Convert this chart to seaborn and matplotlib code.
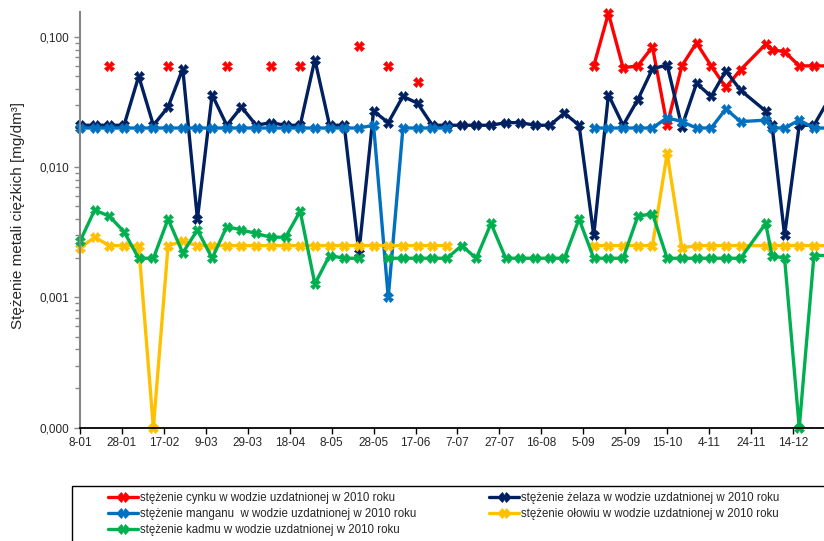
import numpy as np
import pandas as pd
import matplotlib
matplotlib.use("Agg")
import matplotlib.pyplot as plt
import matplotlib.dates as mdates
import matplotlib.ticker as mticker
from matplotlib.lines import Line2D
from matplotlib.patches import Rectangle
import seaborn as sns

nan = np.nan

# sampling dates (roughly weekly, 2010)
sample_dates = [
    "2010-01-08", "2010-01-15", "2010-01-22", "2010-01-29", "2010-02-05",
    "2010-02-12", "2010-02-19", "2010-02-26", "2010-03-05", "2010-03-12",
    "2010-03-19", "2010-03-26", "2010-04-02", "2010-04-09", "2010-04-16",
    "2010-04-23", "2010-04-30", "2010-05-07", "2010-05-14", "2010-05-21",
    "2010-05-28", "2010-06-04", "2010-06-11", "2010-06-18", "2010-06-25",
    "2010-07-02", "2010-07-09", "2010-07-16", "2010-07-23", "2010-07-30",
    "2010-08-06", "2010-08-13", "2010-08-20", "2010-08-27", "2010-09-03",
    "2010-09-10", "2010-09-17", "2010-09-24", "2010-10-01", "2010-10-08",
    "2010-10-15", "2010-10-22", "2010-10-29", "2010-11-05", "2010-11-12",
    "2010-11-19", "2010-12-01", "2010-12-04", "2010-12-10", "2010-12-17",
    "2010-12-24", "2010-12-31",
]

# concentrations [mg/dm3]
zinc = [
    nan, nan, 0.06, nan, nan, nan, 0.06, nan, nan, nan,
    0.06, nan, nan, 0.06, nan, 0.06, nan, nan, nan, 0.085,
    nan, 0.06, nan, 0.045, nan, nan, nan, nan, nan, nan,
    nan, nan, nan, nan, nan, 0.06, 0.152, 0.058, 0.06, 0.084,
    0.021, 0.06, 0.09, 0.06, 0.041, 0.056, 0.088, 0.08, 0.077, 0.06,
    0.06, 0.06,
]
iron = [
    0.021, 0.021, 0.021, 0.021, 0.050, 0.021, 0.029, 0.057, 0.004, 0.036,
    0.021, 0.029, 0.021, 0.022, 0.021, 0.021, 0.067, 0.021, 0.021, 0.0022,
    0.027, 0.022, 0.035, 0.031, 0.021, 0.021, 0.021, 0.021, 0.021, 0.022,
    0.022, 0.021, 0.021, 0.026, 0.021, 0.003, 0.036, 0.021, 0.033, 0.057,
    0.061, 0.0205, 0.044, 0.035, 0.055, 0.039, 0.027, 0.021, 0.003, 0.021,
    0.021, 0.033,
]
manganese = [
    0.02, 0.02, 0.02, 0.02, 0.02, 0.02, 0.02, 0.02, 0.02, 0.02,
    0.02, 0.02, 0.02, 0.02, 0.02, 0.02, 0.02, 0.02, 0.02, 0.02,
    0.021, 0.001, 0.02, 0.02, 0.02, 0.02, nan, nan, nan, nan,
    nan, nan, nan, nan, nan, 0.02, 0.02, 0.02, 0.02, 0.02,
    0.024, 0.0224, 0.02, 0.02, 0.028, 0.0224, 0.023, 0.02, 0.02, 0.023,
    0.02, 0.02,
]
lead = [
    0.0024, 0.0029, 0.0025, 0.0025, 0.0025, 0.0001, 0.0025, 0.0027, 0.0025, 0.0025,
    0.0025, 0.0025, 0.0025, 0.0025, 0.0025, 0.0025, 0.0025, 0.0025, 0.0025, 0.0025,
    0.0025, 0.0025, 0.0025, 0.0025, 0.0025, 0.0025, nan, nan, nan, nan,
    nan, nan, nan, nan, nan, 0.0025, 0.0025, 0.0025, 0.0025, 0.0025,
    0.0128, 0.0024, 0.0025, 0.0025, 0.0025, 0.0025, 0.0025, 0.0025, 0.0025, 0.0025,
    0.0025, 0.0025,
]
cadmium = [
    0.0027, 0.0047, 0.0042, 0.0032, 0.002, 0.002, 0.004, 0.0022, 0.0033, 0.002,
    0.0035, 0.0033, 0.0031, 0.0029, 0.0029, 0.0046, 0.00127, 0.0021, 0.002, 0.002,
    nan, 0.002, 0.002, 0.002, 0.002, 0.002, 0.0025, 0.002, 0.0037, 0.002,
    0.002, 0.002, 0.002, 0.002, 0.004, 0.002, 0.002, 0.002, 0.0042, 0.0044,
    0.002, 0.002, 0.002, 0.002, 0.002, 0.002, 0.0037, 0.0021, 0.002, 0.0001,
    0.0021, 0.0021,
]

labels = {
    "zinc": "stężenie cynku w wodzie uzdatnionej w 2010 roku",
    "iron": "stężenie żelaza w wodzie uzdatnionej w 2010 roku",
    "manganese": "stężenie manganu  w wodzie uzdatnionej w 2010 roku",
    "lead": "stężenie ołowiu w wodzie uzdatnionej w 2010 roku",
    "cadmium": "stężenie kadmu w wodzie uzdatnionej w 2010 roku",
}
colors = {
    "zinc": "#FF0000",
    "iron": "#002060",
    "manganese": "#0070C0",
    "lead": "#FFC000",
    "cadmium": "#00B050",
}

tick_dates = [
    "2010-01-08", "2010-01-28", "2010-02-17", "2010-03-09", "2010-03-29",
    "2010-04-18", "2010-05-08", "2010-05-28", "2010-06-17", "2010-07-07",
    "2010-07-27", "2010-08-16", "2010-09-05", "2010-09-25", "2010-10-15",
    "2010-11-04", "2010-11-24", "2010-12-14",
]
tick_labels = [
    "8-01", "28-01", "17-02", "9-03", "29-03", "18-04", "8-05", "28-05",
    "17-06", "7-07", "27-07", "16-08", "5-09", "25-09", "15-10", "4-11",
    "24-11", "14-12",
]
y_ticks = [0.0001, 0.001, 0.01, 0.1]
y_tick_labels = ["0,000", "0,001", "0,010", "0,100"]

sns.set_style("white")
plt.rcParams["font.family"] = ["Liberation Sans", "DejaVu Sans"]

W, H = 824, 541
fig = plt.figure(figsize=(W / 100, H / 100), dpi=100)
ax = fig.add_axes([80 / W, 1 - 427.7 / H, 744 / W, (427.7 - 11.7) / H])

dates = pd.to_datetime(sample_dates)
series = [("zinc", zinc), ("iron", iron), ("manganese", manganese),
          ("lead", lead), ("cadmium", cadmium)]

LW = 2.4
MS = 6.5
for key, vals in series:
    df = pd.DataFrame({"date": dates, "value": vals})
    ok = df["value"].notna()
    # break the line where a value is missing
    df["segment"] = (ok != ok.shift()).cumsum()
    df = df[ok]
    c = colors[key]
    sns.lineplot(data=df, x="date", y="value", units="segment", estimator=None,
                 sort=False, color=c, lw=LW, marker="X", markersize=MS,
                 markeredgecolor=c, markeredgewidth=0.5, clip_on=False,
                 legend=False, ax=ax)

ax.set_yscale("log")
ax.set_ylim(0.0001, 0.1564)
x0 = pd.Timestamp("2010-01-08")
ax.set_xlim(x0, x0 + pd.Timedelta(days=354.8))

ax.yaxis.set_major_locator(mticker.FixedLocator(y_ticks))
ax.yaxis.set_major_formatter(mticker.FixedFormatter(y_tick_labels))
ax.yaxis.set_minor_locator(mticker.LogLocator(base=10, subs=np.arange(2, 10)))
ax.yaxis.set_minor_formatter(mticker.NullFormatter())
ax.set_xticks(mdates.date2num(pd.to_datetime(tick_dates)))
ax.set_xticklabels(tick_labels)

ax.tick_params(axis="y", which="both", left=True, direction="out", color="#868686",
               width=1, labelsize=8.5, pad=3)
ax.tick_params(axis="y", which="major", length=4.5)
ax.tick_params(axis="y", which="minor", length=3.5)
ax.tick_params(axis="x", which="major", bottom=True, direction="out", length=4,
               width=1, color="black", labelsize=8.5, pad=3)
ax.set_xlabel("")
ax.set_ylabel("")
ax.grid(False)

for side in ["top", "right"]:
    ax.spines[side].set_visible(False)
ax.spines["left"].set_color("#868686")
ax.spines["left"].set_linewidth(1.5)
ax.spines["bottom"].set_color("black")
ax.spines["bottom"].set_linewidth(1.3)

fig.text(18 / W, 1 - 216 / H, "Stężenie metali ciężkich [mg/dm³]", rotation=90,
         ha="center", va="center", fontsize=11)

# legend: boxed area at the bottom, two columns
fig.add_artist(Rectangle((72 / W, -0.05), 1.0, 0.05 + (1 - 486 / H), fill=False,
                         edgecolor="black", lw=1.0, transform=fig.transFigure))


def handle(key):
    c = colors[key]
    return Line2D([], [], color=c, lw=LW, marker="X", markersize=MS,
                  markeredgecolor=c, markeredgewidth=0.5)


leg_kw = dict(loc="upper left", frameon=False, fontsize=8.3, handlelength=2.6,
              handletextpad=0.2, labelspacing=0.33, borderpad=0, borderaxespad=0)
left_keys = ["zinc", "manganese", "cadmium"]
right_keys = ["iron", "lead"]
fig.legend([handle(k) for k in left_keys], [labels[k] for k in left_keys],
           bbox_to_anchor=(108 / W, 1 - 492 / H), **leg_kw)
fig.legend([handle(k) for k in right_keys], [labels[k] for k in right_keys],
           bbox_to_anchor=(489 / W, 1 - 492 / H), **leg_kw)

fig.savefig("out.png", dpi=100)
